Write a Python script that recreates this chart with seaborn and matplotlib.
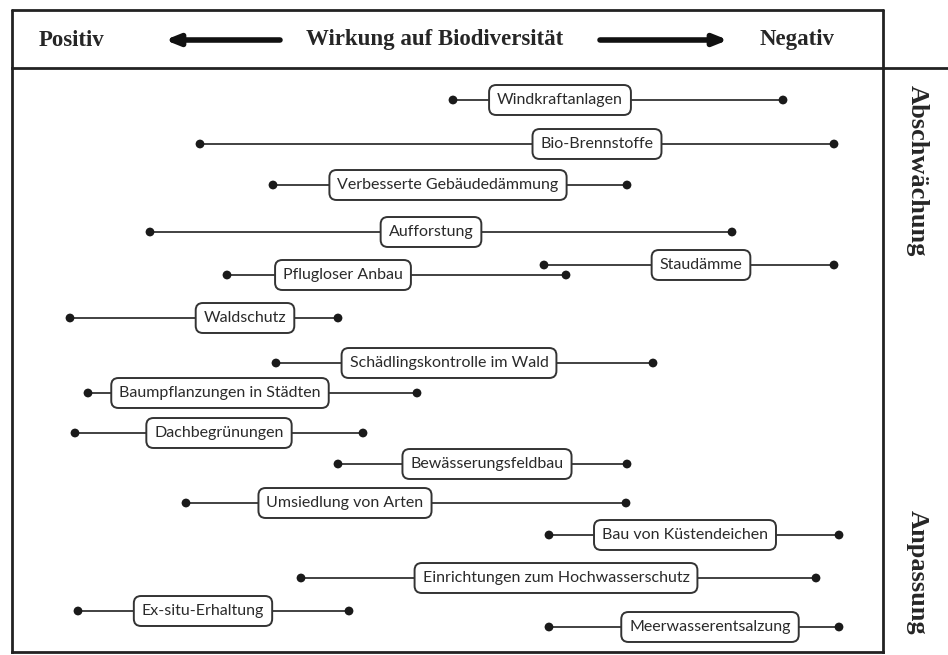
import matplotlib
matplotlib.use("Agg")
import matplotlib.pyplot as plt
from matplotlib.lines import Line2D
import pandas as pd
import seaborn as sns

# measures, ordered top to bottom (x = effect on biodiversity, left positive, right negative)
measures = [
    "Windkraftanlagen", "Bio-Brennstoffe", "Verbesserte Gebäudedämmung",
    "Aufforstung", "Staudämme", "Pflugloser Anbau", "Waldschutz",
    "Schädlingskontrolle im Wald", "Baumpflanzungen in Städten",
    "Dachbegrünungen", "Bewässerungsfeldbau", "Umsiedlung von Arten",
    "Bau von Küstendeichen", "Einrichtungen zum Hochwasserschutz",
    "Ex-situ-Erhaltung", "Meerwasserentsalzung",
]
range_low = [453, 200, 273, 150, 544, 227, 70, 276, 88, 75, 338, 186, 549, 301, 78, 549]
range_high = [783, 834, 627, 732, 834, 566, 338, 653, 417, 363, 627, 626, 839, 816, 349, 839]
label_x = [560, 597, 448, 431, 701, 343, 245, 449, 220, 219, 487, 345, 685, 556, 203, 710]
row_y = [100, 144, 185, 232, 265, 275, 318, 363, 393, 433, 464, 503, 535, 578, 611, 627]

df = pd.DataFrame({"measure": measures, "low": range_low, "high": range_high,
                   "lx": label_x, "y": row_y})
pts = pd.concat([df[["measure", "low", "y"]].rename(columns={"low": "x"}),
                 df[["measure", "high", "y"]].rename(columns={"high": "x"})])

sns.set_style("white")
W, H = 948, 655
fig = plt.figure(figsize=(W / 100, H / 100), dpi=100)


def fx(px):
    return px / W


def fy(py):
    return 1 - py / H


ax = fig.add_axes([fx(12), fy(652), (883 - 12) / W, (652 - 68) / H])
ax.set_xlim(12, 883)
ax.set_ylim(652, 68)

lc = "#222222"
ax.hlines(df["y"], df["low"], df["high"], color="#333333", lw=1.3, zorder=1)
sns.scatterplot(data=pts, x="x", y="y", color="#1a1a1a", s=40, edgecolor="none",
                ax=ax, zorder=3, legend=False)

for _, r in df.iterrows():
    ax.text(r["lx"], r["y"], r["measure"], ha="center", va="center",
            fontsize=11.5, family="Lato", color="#2a2a2a", zorder=4,
            bbox=dict(boxstyle="round,pad=0.5,rounding_size=0.45",
                      fc="white", ec="#333333", lw=1.4))

ax.set_xticks([])
ax.set_yticks([])
ax.set_xlabel("")
ax.set_ylabel("")
for s in ax.spines.values():
    s.set_color(lc)
    s.set_linewidth(2)

# header frame
fig.add_artist(Line2D([fx(12), fx(883)], [fy(10), fy(10)], color=lc, lw=2))
fig.add_artist(Line2D([fx(12), fx(12)], [fy(10), fy(68)], color=lc, lw=2))
fig.add_artist(Line2D([fx(883), fx(883)], [fy(10), fy(68)], color=lc, lw=2))
fig.add_artist(Line2D([fx(883), fx(948)], [fy(68), fy(68)], color=lc, lw=2))

serif = "Liberation Serif"
fig.text(fx(72), fy(40), "Positiv", ha="center", va="center", family=serif,
         weight="bold", fontsize=16.5)
fig.text(fx(435), fy(40), "Wirkung auf Biodiversität", ha="center", va="center",
         family=serif, weight="bold", fontsize=16.5)
fig.text(fx(797), fy(40), "Negativ", ha="center", va="center", family=serif,
         weight="bold", fontsize=16.5)
arrow = dict(arrowstyle="-|>,head_length=0.8,head_width=0.32", lw=4,
             color="#111111", shrinkA=0, shrinkB=0)
ax.annotate("", xy=(fx(165), fy(40)), xytext=(fx(280), fy(40)),
            xycoords="figure fraction", textcoords="figure fraction",
            arrowprops=arrow, annotation_clip=False)
ax.annotate("", xy=(fx(728), fy(40)), xytext=(fx(600), fy(40)),
            xycoords="figure fraction", textcoords="figure fraction",
            arrowprops=arrow, annotation_clip=False)

fig.text(fx(917), fy(171), "Abschwächung", ha="center", va="center", rotation=-90,
         family=serif, weight="bold", fontsize=19)
fig.text(fx(917), fy(572), "Anpassung", ha="center", va="center", rotation=-90,
         family=serif, weight="bold", fontsize=19)

fig.savefig("out.png", dpi=100)
